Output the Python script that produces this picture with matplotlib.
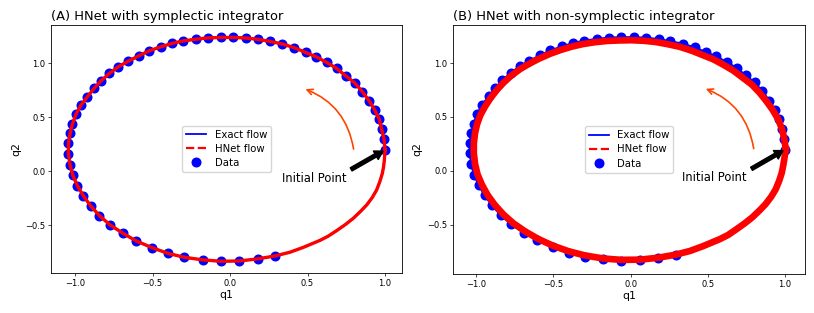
import numpy as np
import matplotlib
matplotlib.use('Agg')
from matplotlib import pyplot as plt
from matplotlib.lines import Line2D

# observed data along the orbit (starts at the initial point, counterclockwise)
data_q1 = [1.000, 0.994, 0.978, 0.963, 0.935, 0.899, 0.854, 0.804, 0.746, 0.688,
           0.624, 0.555, 0.488, 0.415, 0.338, 0.258, 0.183, 0.101, 0.022, -0.060,
           -0.140, -0.219, -0.301, -0.374, -0.445, -0.520, -0.587, -0.656, -0.720, -0.778,
           -0.832, -0.877, -0.920, -0.963, -0.994, -1.017, -1.032, -1.043, -1.043, -1.032,
           -1.015, -0.985, -0.946, -0.899, -0.843, -0.774, -0.692, -0.606, -0.505, -0.402,
           -0.295, -0.176, -0.060, 0.060, 0.178, 0.292]
data_q2 = [0.197, 0.296, 0.392, 0.481, 0.564, 0.651, 0.737, 0.820, 0.885, 0.953,
           1.009, 1.061, 1.101, 1.145, 1.179, 1.203, 1.222, 1.235, 1.240, 1.240,
           1.236, 1.224, 1.208, 1.185, 1.154, 1.117, 1.071, 1.021, 0.969, 0.907,
           0.839, 0.768, 0.691, 0.611, 0.528, 0.438, 0.352, 0.259, 0.160, 0.058,
           -0.037, -0.133, -0.229, -0.321, -0.411, -0.497, -0.574, -0.645, -0.707, -0.760,
           -0.797, -0.821, -0.834, -0.831, -0.812, -0.784]

# rest of the exact orbit (no data there)
rest_q1 = [0.387, 0.473, 0.581, 0.635, 0.688, 0.744, 0.796, 0.842, 0.882, 0.918,
           0.946, 0.967, 0.983, 0.991, 0.996, 1.000]
rest_q2 = [-0.750, -0.705, -0.640, -0.600, -0.550, -0.494, -0.435, -0.372, -0.312, -0.243,
           -0.173, -0.095, -0.019, 0.043, 0.104, 0.197]

# HNet flow with the non-symplectic integrator (band after many periods)
hnet_b_q1 = [1.005, 0.995, 0.980, 0.955, 0.920, 0.880, 0.835, 0.785, 0.725, 0.665,
             0.600, 0.535, 0.465, 0.395, 0.320, 0.240, 0.165, 0.085, 0.005, -0.075,
             -0.155, -0.235, -0.310, -0.380, -0.450, -0.520, -0.587, -0.653, -0.715, -0.772,
             -0.823, -0.868, -0.909, -0.945, -0.975, -0.996, -1.009, -1.016, -1.016, -1.008,
             -0.992, -0.964, -0.928, -0.882, -0.826, -0.760, -0.684, -0.598, -0.502, -0.400,
             -0.295, -0.178, -0.060, 0.060, 0.178, 0.290, 0.385, 0.470, 0.577, 0.631,
             0.683, 0.738, 0.789, 0.835, 0.875, 0.911, 0.940, 0.962, 0.979, 0.988,
             0.995, 1.005]
hnet_b_q2 = [0.200, 0.300, 0.390, 0.480, 0.565, 0.645, 0.725, 0.800, 0.865, 0.930,
             0.985, 1.035, 1.075, 1.115, 1.150, 1.175, 1.195, 1.207, 1.212, 1.210,
             1.205, 1.193, 1.176, 1.153, 1.123, 1.087, 1.045, 0.997, 0.945, 0.885,
             0.818, 0.748, 0.672, 0.592, 0.512, 0.427, 0.342, 0.252, 0.160, 0.063,
             -0.033, -0.128, -0.223, -0.314, -0.404, -0.488, -0.563, -0.634, -0.697, -0.749,
             -0.787, -0.815, -0.828, -0.826, -0.808, -0.780, -0.745, -0.700, -0.636, -0.597,
             -0.546, -0.490, -0.432, -0.369, -0.309, -0.241, -0.172, -0.095, -0.020, 0.043,
             0.104, 0.200]

exact_q1 = data_q1 + rest_q1
exact_q2 = data_q2 + rest_q2

titles = ['(A) HNet with symplectic integrator', '(B) HNet with non-symplectic integrator']

plt.rcParams['font.family'] = 'DejaVu Sans'
fig = plt.figure(figsize=(8.14, 3.13), dpi=100)
axA = fig.add_axes([0.0627, 0.128, 0.4312, 0.792])
axB = fig.add_axes([0.5565, 0.125, 0.4325, 0.795])

for ax, title, hq1, hq2, hlw in [(axA, titles[0], exact_q1, exact_q2, 2.4),
                                 (axB, titles[1], hnet_b_q1, hnet_b_q2, 4.8)]:
    ax.plot(exact_q1, exact_q2, color='b', lw=1.5)
    ax.plot(data_q1, data_q2, 'o', color='b', markersize=6.2)
    ax.plot(hq1, hq2, color='r', lw=hlw, solid_joinstyle='round')

    handles = [Line2D([], [], color='b', lw=1.3),
               Line2D([], [], color='r', lw=1.6, ls='--'),
               Line2D([], [], color='b', marker='o', ls='', markersize=6.2)]
    ax.legend(handles, ['Exact flow', 'HNet flow', 'Data'], loc='center',
              fontsize=7.3, handlelength=2.0, borderpad=0.4, labelspacing=0.4)

    ax.annotate('Initial Point', xy=(1.0, 0.197), xytext=(0.335, -0.10), fontsize=8.3,
                arrowprops=dict(facecolor='black', edgecolor='black', shrink=0.05,
                                width=2.6, headwidth=7, headlength=6))
    ax.annotate('', xy=(0.47, 0.77), xytext=(0.8, 0.18),
                arrowprops=dict(arrowstyle='->', color='orangered', lw=1.2,
                                connectionstyle='arc3,rad=0.3'))

    ax.set_title(title, loc='left', fontsize=9.4, pad=3.5)
    ax.set_xlabel('q1', fontsize=7.8, labelpad=1.5)
    ax.set_ylabel('q2', fontsize=7.8, labelpad=3)
    ax.tick_params(labelsize=6, length=2.2, width=0.5, pad=2)
    for s in ax.spines.values():
        s.set_linewidth(0.6)

axA.set_xlim(-1.155, 1.11)
axA.set_ylim(-0.942, 1.355)
axB.set_xlim(-1.151, 1.13)
axB.set_ylim(-0.958, 1.353)

fig.savefig('out.png', dpi=100)
